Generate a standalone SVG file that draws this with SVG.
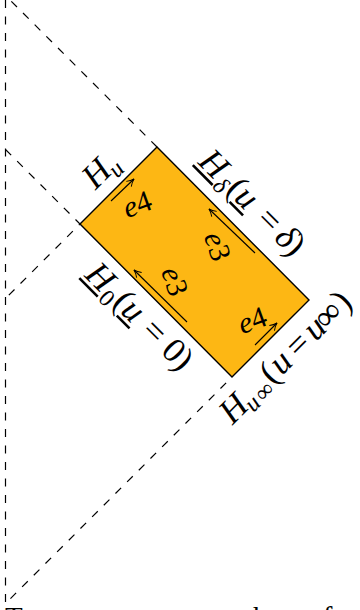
<svg xmlns="http://www.w3.org/2000/svg" width="360" height="610" viewBox="0 0 360 610">
  <style>
    .dash { fill: none; stroke: #000; stroke-width: 1.2; stroke-dasharray: 8 8.5; }
    .arr { fill: none; stroke: #000; stroke-width: 1.1; marker-end: url(#ah); }
    .lbl { font-family: "Liberation Serif", "DejaVu Serif", serif; font-size: 35px; fill: #000; }
    .i { font-style: italic; }
    .sub { font-size: 24px; }
    .ul { stroke: #000; stroke-width: 2.6; }
    .e { font-family: "Liberation Serif", "DejaVu Serif", serif; font-size: 30px; fill: #000; }
    .body { font-family: "Liberation Serif", "DejaVu Serif", serif; font-size: 29px; fill: #000; }
  </style>
  <defs>
    <marker id="ah" viewBox="0 0 10 10" refX="9" refY="5" markerWidth="9" markerHeight="9" orient="auto" markerUnits="userSpaceOnUse">
      <path d="M1,1 Q5,4 9,5 Q5,6 1,9" fill="none" stroke="#000" stroke-width="1.1"/>
    </marker>
  </defs>
  <rect width="360" height="610" fill="#fff"/>

  <g id="region">
    <polygon points="157,147 309,300 232,377 80,224" fill="#FDB714" stroke="#000" stroke-width="1.4" stroke-linejoin="miter"/>
  </g>

  <g id="connectors">
    <path class="dash" d="M157,147 L5.5,-4.5"/>
    <path class="dash" d="M5.5,0 L5.5,603.5 L232,377"/>
    <path class="dash" d="M5.5,149.5 L80,224 L5.5,298.5"/>
    <path class="arr" d="M111,201 L134,179"/>
    <path class="arr" d="M255,253 L209,209"/>
    <path class="arr" d="M187,322 L134,270"/>
    <path class="arr" d="M255,345 L277,323"/>
  </g>

  <g id="label-Hu" transform="translate(96,190) rotate(-45)">
    <text class="lbl" text-anchor="middle"><tspan class="i" x="12" y="0">H</tspan><tspan class="i sub" x="29" y="7">u</tspan></text>
  </g>

  <g id="label-Hdelta" transform="translate(196,162) rotate(45)">
    <text class="lbl" text-anchor="middle"><tspan class="i" x="14" y="0">H</tspan><tspan class="i sub" x="34" y="7">δ</tspan><tspan x="47" y="0">(</tspan><tspan class="i" x="61" y="0">u</tspan><tspan x="93" y="0">=</tspan><tspan class="i" x="117" y="0">δ</tspan><tspan x="130" y="0">)</tspan></text>
    <line class="ul" x1="0" y1="4.5" x2="28" y2="4.5"/>
    <line class="ul" x1="52" y1="4.5" x2="71" y2="4.5"/>
  </g>

  <g id="label-H0" transform="translate(82.5,275) rotate(45)">
    <text class="lbl" text-anchor="middle"><tspan class="i" x="14" y="0">H</tspan><tspan class="sub" x="33.5" y="7">0</tspan><tspan x="47" y="0">(</tspan><tspan class="i" x="61" y="0">u</tspan><tspan x="91" y="0">=</tspan><tspan x="118" y="0">0</tspan><tspan x="132" y="0">)</tspan></text>
    <line class="ul" x1="0" y1="4.5" x2="26" y2="4.5"/>
    <line class="ul" x1="53" y1="4.5" x2="71" y2="4.5"/>
  </g>

  <g id="label-Huinf" transform="translate(233,425) rotate(-45)">
    <text class="lbl" text-anchor="middle"><tspan class="i" x="12" y="0">H</tspan><tspan class="i sub" x="29" y="6">u</tspan><tspan class="sub" x="46" y="6">∞</tspan><tspan x="62" y="0">(</tspan><tspan class="i" x="78" y="0">u</tspan><tspan x="103" y="0">=</tspan><tspan class="i" x="126" y="0">u</tspan><tspan x="145" y="0">∞</tspan><tspan x="165" y="0">)</tspan></text>
  </g>

  <g id="label-e4-top" transform="translate(137.5,205) rotate(-20)">
    <text class="e" x="0" y="9" text-anchor="middle"><tspan class="i">e</tspan>4</text>
  </g>
  <g id="label-e3-upper" transform="translate(216.7,246.7) rotate(72)">
    <text class="e" x="0" y="9" text-anchor="middle"><tspan class="i">e</tspan>3</text>
  </g>
  <g id="label-e3-lower" transform="translate(174,281.7) rotate(72)">
    <text class="e" x="0" y="9" text-anchor="middle"><tspan class="i">e</tspan>3</text>
  </g>
  <g id="label-e4-lower" transform="translate(252.5,321) rotate(-20)">
    <text class="e" x="0" y="9" text-anchor="middle"><tspan class="i">e</tspan>4</text>
  </g>

  <text class="body" y="627"><tspan x="5">To</tspan><tspan x="50">construct</tspan><tspan x="177.6">a</tspan><tspan x="201.8">number</tspan><tspan x="308.3">of</tspan></text>
</svg>
